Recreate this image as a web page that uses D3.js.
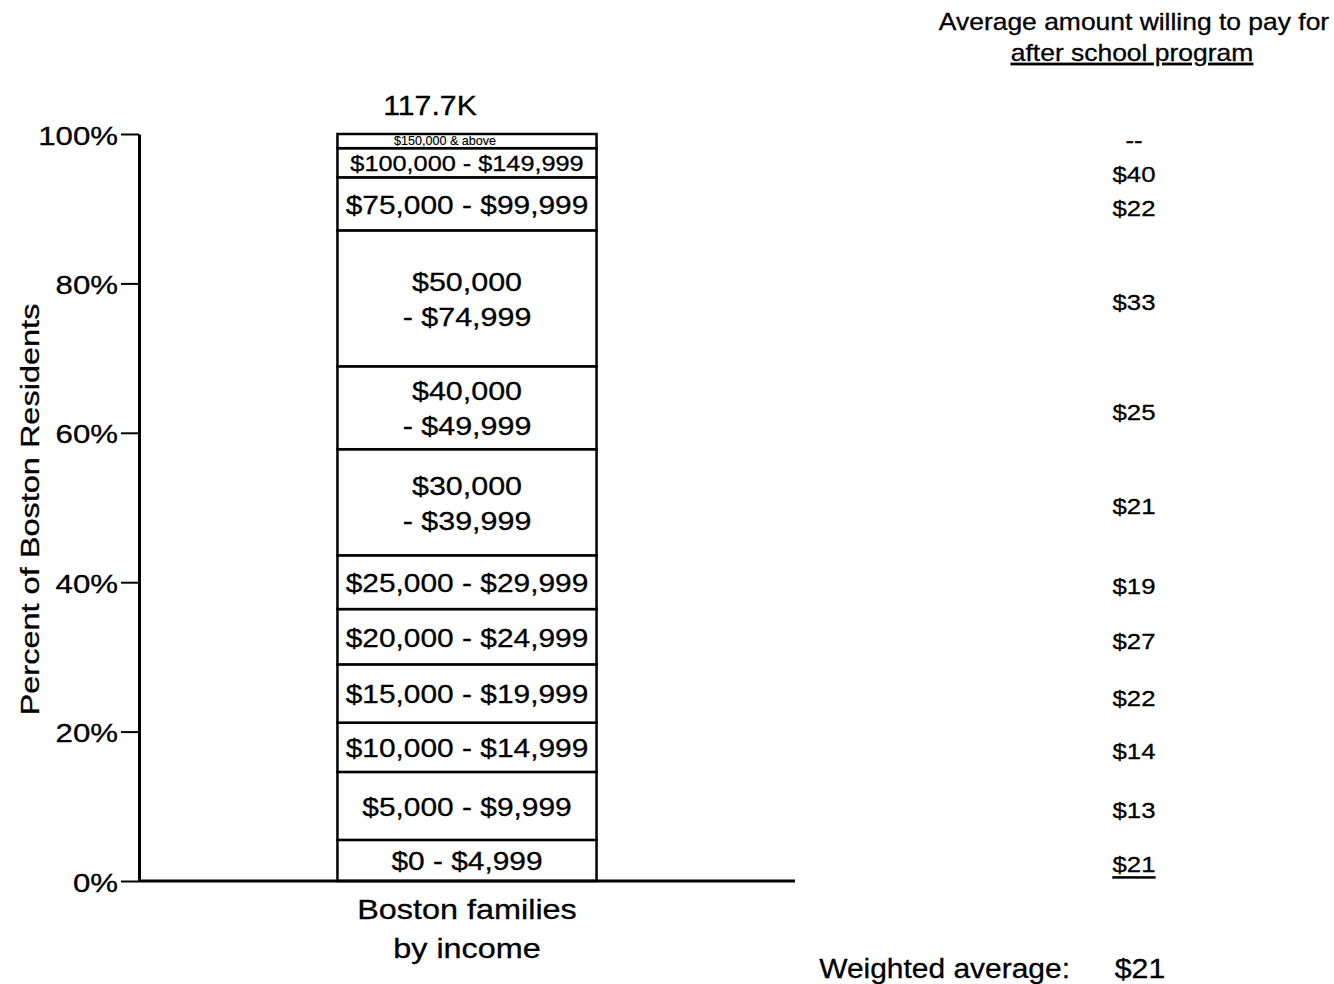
<!DOCTYPE html>
<html>
<head>
<meta charset="utf-8">
<script src="https://cdn.jsdelivr.net/npm/d3@7"></script>
<style>
  html, body { margin: 0; padding: 0; background: #fff; }
  svg { display: block; font-family: "Liberation Sans", Arial, sans-serif; }
  text { fill: #000; stroke: #000; stroke-width: 0.3px; }
</style>
</head>
<body>
<svg id="chart" width="1334" height="984"></svg>
<script>
// ---- data (bottom to top) ----
const categories = [
  "$0 - $4,999", "$5,000 - $9,999", "$10,000 - $14,999", "$15,000 - $19,999",
  "$20,000 - $24,999", "$25,000 - $29,999", "$30,000|- $39,999", "$40,000|- $49,999",
  "$50,000|- $74,999", "$75,000 - $99,999", "$100,000 - $149,999", "$150,000 & above"
];
const shares = [5.5, 9.1, 6.6, 7.8, 7.4, 7.2, 14.2, 11.1, 18.2, 7.1, 3.9, 1.9];
const willingToPay = ["$21", "$13", "$14", "$22", "$27", "$19", "$21", "$25", "$33", "$22", "$40", "--"];
const barName = "Boston families by income";
const totalLabel = "117.7K";
const yTicks = [0, 20, 40, 60, 80, 100];
const weightedAverage = "$21";

// ---- setup ----
const svg = d3.select("#chart");
const y = d3.scaleLinear().domain([0, 100]).range([881, 134]);
const x = d3.scaleBand().domain([barName]).range([139, 795]).paddingInner(0).paddingOuter(0.766);
const SX = 1.15; // horizontal glyph stretch seen in reference

function label(g, px, py, str, size, anchor, sx, extra) {
  const t = g.append("text")
    .attr("transform", `translate(${px},${py}) scale(${sx || SX},1)`)
    .attr("text-anchor", anchor || "middle")
    .attr("font-size", size)
    .text(str);
  if (extra) extra(t);
  return t;
}

// stacked segments
let acc = 0;
const segs = shares.map((s, i) => {
  const d = { cat: categories[i], y0: acc, y1: acc + s, pay: willingToPay[i] };
  acc += s;
  return d;
});

const bx = x(barName), bw = x.bandwidth(), cx = bx + bw / 2;

svg.append("g").selectAll("rect").data(segs).join("rect")
  .attr("x", bx)
  .attr("y", d => y(d.y1))
  .attr("width", bw)
  .attr("height", d => y(d.y0) - y(d.y1))
  .attr("fill", "#fff")
  .attr("stroke", "#000")
  .attr("stroke-width", 2.5);

// segment labels
const lg = svg.append("g");
segs.forEach((d, i) => {
  const mid = (y(d.y0) + y(d.y1)) / 2;
  const parts = d.cat.split("|");
  if (i === segs.length - 1) {
    label(lg, cx - 22, mid, d.cat, 12, "middle", 1.05, t => t.attr("dominant-baseline", "central").style("stroke-width", "0.15px"));
  } else if (parts.length === 2) {
    label(lg, cx, mid - 17, parts[0], 26.5, "middle", SX, t => t.attr("dominant-baseline", "central"));
    label(lg, cx, mid + 18, parts[1], 26.5, "middle", SX, t => t.attr("dominant-baseline", "central"));
  } else {
    const sz = i === segs.length - 2 ? 22 : 26;
    label(lg, cx, mid + 1, d.cat, sz, "middle", SX, t => t.attr("dominant-baseline", "central"));
  }
});

// y axis
const yAxis = d3.axisLeft(y).tickValues(yTicks).tickFormat(d => d + "%")
  .tickSize(18).tickSizeOuter(0);
const ya = svg.append("g").attr("transform", "translate(139,0)").call(yAxis);
ya.select(".domain").attr("stroke", "#000").attr("stroke-width", 3);
ya.selectAll(".tick line").attr("stroke", "#000").attr("stroke-width", 2);
ya.selectAll(".tick text")
  .attr("x", null).attr("dy", null)
  .attr("transform", `translate(-21,1) scale(1.2,1)`)
  .attr("dominant-baseline", "central")
  .attr("font-size", 26)
  .attr("font-family", '"Liberation Sans", Arial, sans-serif')
  .attr("fill", "#000");

// baseline
svg.append("line")
  .attr("x1", x.range()[0]).attr("x2", x.range()[1])
  .attr("y1", y(0)).attr("y2", y(0))
  .attr("stroke", "#000").attr("stroke-width", 3);

// y title
svg.append("text")
  .attr("transform", `translate(39,${(y(0) + y(100)) / 2 + 2}) rotate(-90) scale(1.3,1)`)
  .attr("text-anchor", "middle")
  .attr("font-size", 25)
  .text("Percent of Boston Residents");

// total label
label(svg, cx - 37, 115, totalLabel, 27, "middle", 1.12);

// x label
const nameParts = ["Boston families", "by income"];
label(svg, cx, 919, nameParts[0], 27, "middle", 1.2);
label(svg, cx, 958, nameParts[1], 27, "middle", 1.2);

// right column header
const rx = 1134;
label(svg, rx, 30, "Average amount willing to pay for", 23, "middle", 1.15);
label(svg, rx - 2, 61, "after school program", 23, "middle", 1.15,
  t => t.attr("text-decoration", "underline"));

// right column values, spaced top-down to avoid overlap
const pos = segs.map(d => (y(d.y0) + y(d.y1)) / 2);
const placed = [];
for (let i = segs.length - 1; i >= 0; i--) {
  let p = pos[i];
  if (i < segs.length - 1) p = Math.max(p + 5, placed[i + 1] + 34);
  placed[i] = p;
}
const vg = svg.append("g");
segs.forEach((d, i) => {
  label(vg, rx, placed[i] - 1, d.pay, 23, "middle", 1.12, t => {
    t.attr("dominant-baseline", "central");
    if (i === 0) t.attr("text-decoration", "underline");
  });
});

// weighted average
label(svg, 1070, 978, "Weighted average:", 28, "end", 1.07);
label(svg, 1140, 978, weightedAverage, 28, "middle", 1.08);
</script>
</body>
</html>
